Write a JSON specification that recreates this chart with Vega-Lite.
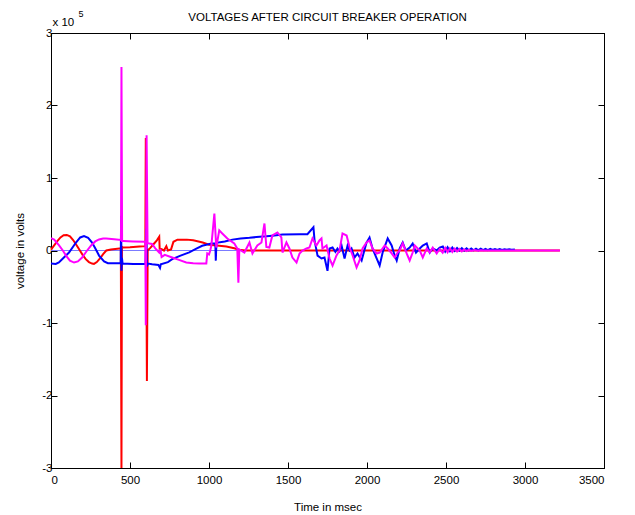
{
  "$schema": "https://vega.github.io/schema/vega-lite/v6.json",
  "width": 553,
  "height": 435,
  "autosize": {"type": "none"},
  "padding": {"left": 51, "top": 33, "right": 31, "bottom": 47},
  "background": "white",
  "title": {"text": "VOLTAGES AFTER CIRCUIT BREAKER OPERATION", "font": "Liberation Sans", "fontSize": 11.5, "fontWeight": "normal", "color": "black", "anchor": "middle", "frame": "group", "offset": -23, "baseline": "alphabetic"},
  "datasets": {
    "zero": [{"t": 0, "v": 0}, {"t": 3221, "v": 0}],
    "red": [
      {"t":0,"v":1000},{"t":20,"v":7000},{"t":40,"v":13000},{"t":60,"v":18000},{"t":80,"v":21000},{"t":100,"v":21500},{"t":120,"v":19500},{"t":140,"v":14500},{"t":160,"v":8000},{"t":180,"v":1000},{"t":200,"v":-6000},{"t":220,"v":-12000},{"t":240,"v":-16000},{"t":260,"v":-18000},{"t":272,"v":-18500},{"t":290,"v":-16000},{"t":310,"v":-11000},{"t":330,"v":-5000},{"t":350,"v":0},{"t":380,"v":1500},{"t":420,"v":2500},{"t":442,"v":3000},{"t":446,"v":-300000},{"t":449,"v":5000},{"t":455,"v":4000},{"t":500,"v":4500},{"t":560,"v":5500},{"t":597,"v":6000},{"t":600,"v":155000},{"t":607,"v":-180000},{"t":612,"v":0},{"t":630,"v":4000},{"t":650,"v":9000},{"t":670,"v":14000},{"t":685,"v":19000},{"t":688,"v":1000},{"t":700,"v":2000},{"t":715,"v":0},{"t":730,"v":6000},{"t":740,"v":0},{"t":760,"v":1500},{"t":775,"v":12000},{"t":800,"v":15000},{"t":860,"v":15000},{"t":900,"v":14000},{"t":960,"v":11000},{"t":1000,"v":8000},{"t":1050,"v":7000},{"t":1110,"v":5500},{"t":1160,"v":3000},{"t":1190,"v":1000},{"t":1230,"v":0},{"t":3221,"v":0}
    ],
    "blue": [
      {"t":0,"v":-18000},{"t":30,"v":-18500},{"t":50,"v":-16500},{"t":80,"v":-10000},{"t":114,"v":-2800},{"t":158,"v":11000},{"t":185,"v":18000},{"t":209,"v":20000},{"t":235,"v":17500},{"t":260,"v":11000},{"t":280,"v":3000},{"t":304,"v":-7000},{"t":336,"v":-15000},{"t":360,"v":-17500},{"t":400,"v":-17500},{"t":441,"v":-17500},{"t":444,"v":48000},{"t":446,"v":-28000},{"t":449,"v":-10000},{"t":453,"v":-18000},{"t":520,"v":-18500},{"t":598,"v":-18500},{"t":603,"v":30000},{"t":607,"v":-22000},{"t":613,"v":-18000},{"t":640,"v":-19000},{"t":680,"v":-20000},{"t":690,"v":-24000},{"t":695,"v":-19000},{"t":740,"v":-16000},{"t":767,"v":-12000},{"t":820,"v":-7000},{"t":875,"v":-2500},{"t":920,"v":2500},{"t":957,"v":6500},{"t":1015,"v":9500},{"t":1040,"v":10000},{"t":1043,"v":-14000},{"t":1047,"v":10500},{"t":1100,"v":12500},{"t":1148,"v":15000},{"t":1200,"v":16500},{"t":1256,"v":17500},{"t":1300,"v":18500},{"t":1363,"v":19500},{"t":1401,"v":20500},{"t":1465,"v":22000},{"t":1573,"v":22500},{"t":1623,"v":22500},{"t":1661,"v":32000},{"t":1668,"v":14000},{"t":1687,"v":-7000},{"t":1712,"v":-11000},{"t":1731,"v":-9700},{"t":1750,"v":-28000},{"t":1763,"v":2800},{"t":1782,"v":4100},{"t":1800,"v":-2000},{"t":1813,"v":2800},{"t":1826,"v":-1000},{"t":1839,"v":6900},{"t":1858,"v":-11000},{"t":1877,"v":6900},{"t":1890,"v":0},{"t":1902,"v":2800},{"t":1921,"v":-9700},{"t":1940,"v":-4100},{"t":1966,"v":-13800},{"t":1997,"v":11000},{"t":2016,"v":18000},{"t":2035,"v":2800},{"t":2061,"v":-11000},{"t":2080,"v":-20700},{"t":2099,"v":-2800},{"t":2131,"v":16600},{"t":2156,"v":6900},{"t":2175,"v":-6900},{"t":2188,"v":-13800},{"t":2207,"v":2800},{"t":2226,"v":11000},{"t":2245,"v":0},{"t":2270,"v":4100},{"t":2289,"v":9700},{"t":2310,"v":-2800},{"t":2334,"v":2800},{"t":2353,"v":6900},{"t":2378,"v":9700},{"t":2397,"v":-2800},{"t":2416,"v":2800},{"t":2441,"v":0},{"t":2460,"v":4100},{"t":2480,"v":5500},{"t":2495,"v":-1500},{"t":2510,"v":4500},{"t":2525,"v":-1000},{"t":2540,"v":4000},{"t":2555,"v":-500},{"t":2570,"v":3500},{"t":2585,"v":0},{"t":2600,"v":3200},{"t":2615,"v":0},{"t":2630,"v":3000},{"t":2645,"v":200},{"t":2660,"v":2800},{"t":2675,"v":300},{"t":2690,"v":2600},{"t":2705,"v":400},{"t":2720,"v":2500},{"t":2735,"v":500},{"t":2750,"v":2300},{"t":2765,"v":600},{"t":2780,"v":2200},{"t":2795,"v":700},{"t":2810,"v":2000},{"t":2825,"v":800},{"t":2840,"v":1900},{"t":2855,"v":900},{"t":2870,"v":1800},{"t":2885,"v":1000},{"t":2900,"v":1600},{"t":2915,"v":1000},{"t":2936,"v":1300}
    ],
    "magenta": [
      {"t":0,"v":17000},{"t":20,"v":15000},{"t":51,"v":7000},{"t":75,"v":0},{"t":95,"v":-7000},{"t":120,"v":-14000},{"t":146,"v":-16600},{"t":170,"v":-15000},{"t":197,"v":-9700},{"t":225,"v":-1000},{"t":254,"v":7000},{"t":280,"v":12500},{"t":304,"v":15200},{"t":330,"v":16600},{"t":349,"v":16600},{"t":400,"v":15500},{"t":443,"v":14500},{"t":446,"v":253000},{"t":450,"v":13000},{"t":460,"v":13000},{"t":520,"v":12500},{"t":597,"v":12000},{"t":600,"v":-103000},{"t":605,"v":159000},{"t":611,"v":10000},{"t":640,"v":9000},{"t":660,"v":3000},{"t":685,"v":-2800},{"t":692,"v":2000},{"t":700,"v":-9000},{"t":720,"v":-6000},{"t":767,"v":-9700},{"t":810,"v":-13000},{"t":856,"v":-16600},{"t":900,"v":-17500},{"t":938,"v":-18000},{"t":983,"v":-18000},{"t":989,"v":-4100},{"t":1000,"v":-5500},{"t":1008,"v":0},{"t":1015,"v":6900},{"t":1034,"v":51000},{"t":1046,"v":4100},{"t":1065,"v":27700},{"t":1084,"v":23500},{"t":1116,"v":16600},{"t":1160,"v":9700},{"t":1179,"v":2800},{"t":1186,"v":-44300},{"t":1192,"v":1400},{"t":1224,"v":-2800},{"t":1256,"v":11000},{"t":1275,"v":-4100},{"t":1306,"v":6900},{"t":1332,"v":11100},{"t":1351,"v":37300},{"t":1363,"v":5000},{"t":1382,"v":4100},{"t":1401,"v":20700},{"t":1433,"v":24900},{"t":1458,"v":18000},{"t":1465,"v":-2800},{"t":1490,"v":11100},{"t":1509,"v":2800},{"t":1528,"v":-9700},{"t":1554,"v":-16600},{"t":1573,"v":-4100},{"t":1592,"v":0},{"t":1617,"v":2800},{"t":1636,"v":4100},{"t":1655,"v":16600},{"t":1680,"v":6900},{"t":1699,"v":13800},{"t":1712,"v":16600},{"t":1718,"v":2800},{"t":1744,"v":6900},{"t":1763,"v":-11100},{"t":1782,"v":-20700},{"t":1807,"v":-6900},{"t":1826,"v":0},{"t":1845,"v":23500},{"t":1871,"v":20700},{"t":1890,"v":4100},{"t":1909,"v":-6900},{"t":1934,"v":-23500},{"t":1953,"v":-13800},{"t":1972,"v":2800},{"t":1997,"v":11100},{"t":2016,"v":13800},{"t":2035,"v":2800},{"t":2061,"v":-4100},{"t":2080,"v":-2800},{"t":2112,"v":6900},{"t":2131,"v":2800},{"t":2156,"v":-4100},{"t":2175,"v":-9700},{"t":2194,"v":-2800},{"t":2207,"v":0},{"t":2226,"v":9700},{"t":2251,"v":-4100},{"t":2270,"v":-13800},{"t":2289,"v":-2800},{"t":2302,"v":6900},{"t":2334,"v":0},{"t":2353,"v":-9700},{"t":2378,"v":2800},{"t":2397,"v":-2800},{"t":2416,"v":4100},{"t":2441,"v":-4100},{"t":2460,"v":2000},{"t":2479,"v":-3000},{"t":2495,"v":3500},{"t":2510,"v":-2500},{"t":2525,"v":3000},{"t":2540,"v":-2000},{"t":2555,"v":2500},{"t":2570,"v":-1500},{"t":2585,"v":2000},{"t":2600,"v":-1200},{"t":2615,"v":1500},{"t":2630,"v":-800},{"t":2645,"v":1000},{"t":2660,"v":-500},{"t":2680,"v":600},{"t":2700,"v":-300},{"t":2720,"v":300},{"t":2740,"v":0},{"t":3221,"v":0}
    ]
  },
  "layer": [
    {
      "data": {"name": "zero"},
      "mark": {"type": "line", "color": "#7b7bff", "strokeWidth": 1, "clip": true},
      "encoding": {
        "x": {"field": "t", "type": "quantitative", "scale": {"domain": [0, 3500], "nice": false, "zero": false},
          "axis": {"orient": "bottom", "values": [0,500,1000,1500,2000,2500,3000,3500], "labelExpr": "'' + datum.value", "labelBaseline": "alphabetic", "labelPadding": 21, "title": "Time in msec", "titleY": 42.5, "titleBaseline": "alphabetic"}},
        "y": {"field": "v", "type": "quantitative", "scale": {"domain": [-300000, 300000], "nice": false, "zero": false},
          "axis": {"orient": "left", "values": [-300000,-200000,-100000,0,100000,200000,300000], "labelExpr": "'' + (datum.value/100000)", "labelPadding": 5, "title": "voltage in volts", "titleAngle": 270, "titleX": -28, "titleY": 217.5, "titleAlign": "center", "titleBaseline": "alphabetic"}}
      }
    },
    {
      "data": {"name": "red"},
      "mark": {"type": "line", "color": "#ff0000", "strokeWidth": 2, "clip": true},
      "encoding": {
        "x": {"field": "t", "type": "quantitative", "axis": null},
        "y": {"field": "v", "type": "quantitative", "axis": null}
      }
    },
    {
      "data": {"name": "blue"},
      "mark": {"type": "line", "color": "#0000ff", "strokeWidth": 2, "clip": true},
      "encoding": {
        "x": {"field": "t", "type": "quantitative", "axis": null},
        "y": {"field": "v", "type": "quantitative", "axis": null}
      }
    },
    {
      "data": {"name": "magenta"},
      "mark": {"type": "line", "color": "#ff00ff", "strokeWidth": 2, "clip": true},
      "encoding": {
        "x": {"field": "t", "type": "quantitative",
          "axis": {"orient": "top", "values": [0,500,1000,1500,2000,2500,3000,3500], "labels": false, "title": "x 10", "titleX": 1, "titleY": -8, "titleAlign": "left", "titleAnchor": "start", "titleBaseline": "alphabetic", "titleAngle": 0}},
        "y": {"field": "v", "type": "quantitative",
          "axis": {"orient": "right", "values": [-300000,-200000,-100000,0,100000,200000,300000], "labels": false, "title": "5", "titleFontSize": 9, "titleX": -526, "titleY": -17, "titleAlign": "left", "titleAnchor": "start", "titleBaseline": "alphabetic", "titleAngle": 0}}
      }
    }
  ],
  "resolve": {"axis": {"x": "independent", "y": "independent"}},
  "config": {
    "view": {"stroke": "black", "strokeWidth": 1},
    "axis": {"grid": false, "domainColor": "black", "tickColor": "black", "labelColor": "black", "titleColor": "black", "labelFont": "Liberation Sans", "titleFont": "Liberation Sans", "labelFontSize": 11.5, "titleFontSize": 11.5, "titleFontWeight": "normal", "tickSize": -6, "domain": true}
  }
}
